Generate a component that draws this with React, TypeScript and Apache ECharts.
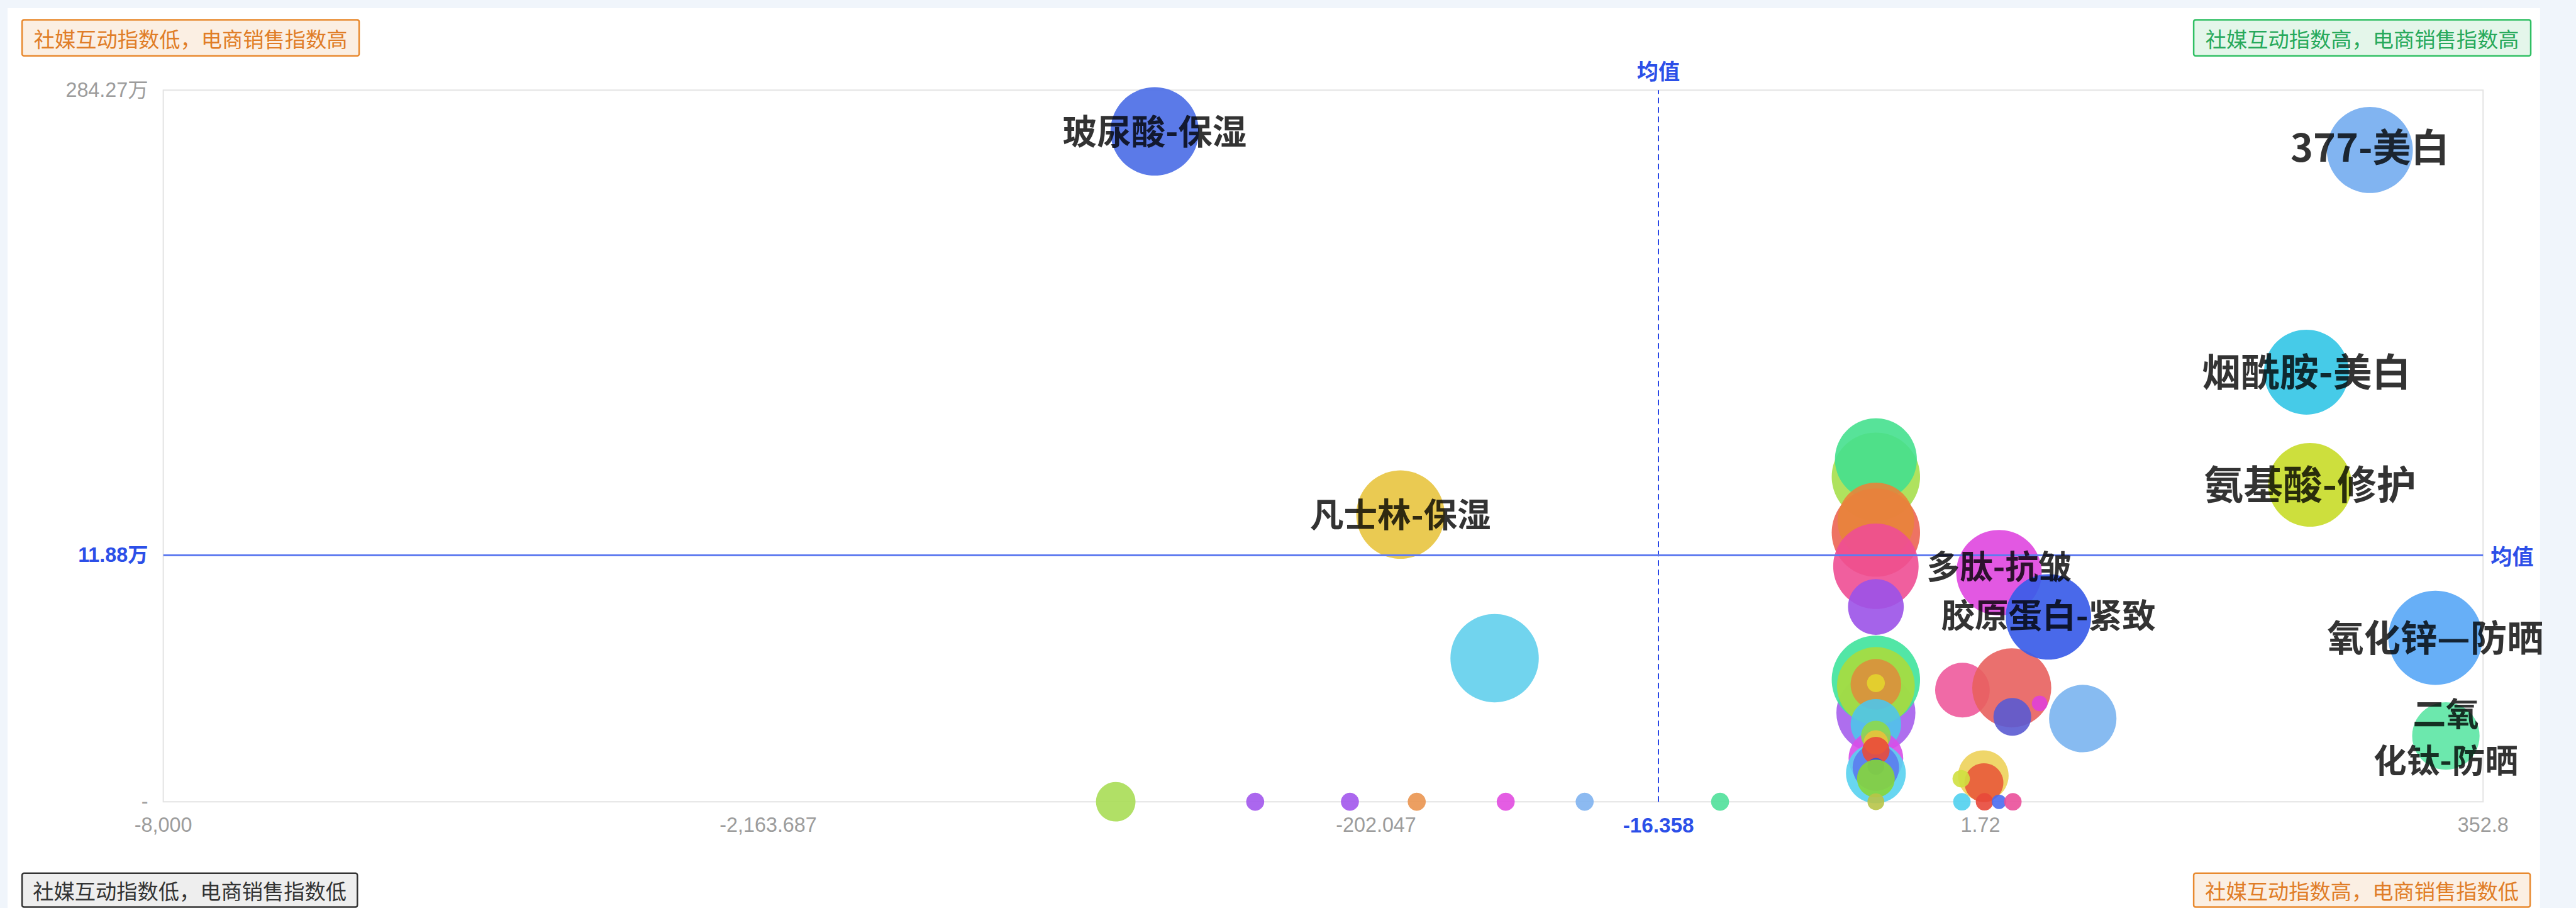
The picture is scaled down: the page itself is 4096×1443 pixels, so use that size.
import React, { useEffect, useRef } from 'react';
import * as echarts from 'echarts';

// ---------- scale of this rendering relative to the reference ----------
const S = 0.924;

// ---------- axis ticks (piecewise axis as in the original) ----------
const xTickValues = [-8000, -2163.687, -202.047, -16.358, 1.72, 352.8];
const xTickLabels = ['-8,000', '-2,163.687', '-202.047', '-16.358', '1.72', '352.8'];
const yTickValues = [0, 11.88, 284.27]; // 万
const yTickLabels = ['-', '11.88万', '284.27万'];
const xMean = -16.358;
const yMean = 11.88;
// where each tick sits along the axis (percent of axis length)
const xTickPos = [0, 26.077, 52.279, 64.454, 78.332, 100];
const yTickPos = [0, 34.641, 100];

// ---------- labelled bubbles ----------
const namedItems = ['玻尿酸-保湿', '凡士林-保湿', '377-美白', '烟酰胺-美白', '氨基酸-修护', '多肽-抗皱', '胶原蛋白-紧致', '氧化锌—防晒', '二氧化钛-防晒'];
const namedLabels = ['玻尿酸-保湿', '凡士林-保湿', '377-美白', '烟酰胺-美白', '氨基酸-修护', '多肽-抗皱', '胶原蛋白-紧致', '氧化锌—防晒', '二氧\n化钛-防晒'];
const namedSocial = [-916.6, -186.0, 273.7, 229.4, 231.9, 14.7, 49.2, 319.5, 326.8];
const namedSales = [260.1, 35.7, 249.2, 119.1, 53.1, 11.04, 8.91, 7.9, 3.17];
const namedBubble = [152, 152, 148, 146, 144, 147, 147, 162, 116];

// ---------- other bubbles ----------
const otherSocial = [
  -124.1, -1042.2, -592.1, -286.4, -175.3, -116.8, -64.9, -12.9,
  -4.15, -4.15, -4.15, -4.15, -4.15, -4.15, -4.15, -4.15, -4.15, -4.15, -4.15,
  -4.15, -4.15, -4.15, -4.15, -4.15, -4.15, -4.15, -4.15, -4.15, -4.15,
  0.71, 23.6, 24.0, 43.1, 73.2, 3.75, 4.16, 0.64, 0.68, 4.56, 14.7, 24.4,
];
const otherSales = [
  6.92, 0, 0, 0, 0, 0, 0, 0,
  57.85, 68.06, 25.16, 31.97, 11.35, 9.39, 4.29, 5.88, 5.58, 5.66, 5.72,
  3.73, 2.1, 1.37, 1.65, 3.19, 2.86, 2.47, 1.71, 1.12, 0,
  5.38, 5.49, 4.09, 4.74, 4.01, 1.26, 0.92, 1.11, 0, 0, 0, 0,
];
const otherBubble = [
  152, 68, 31, 31, 31, 31, 31, 31,
  152, 141, 152, 132, 147, 96, 136, 152, 134, 87, 31,
  87, 94, 103, 80, 51, 42, 47, 29, 65, 29,
  94, 136, 65, 27, 116, 87, 67, 30, 30, 30, 25, 30,
];

// ---------- styles ----------
const namedColors = ['#4d6fe6', '#e8c543', '#76aef0', '#36c7e6', '#c9dc2c', '#df4ae0', '#3a5ce8', '#5aa8f6', '#5fe6a6'];
const namedFont = [59, 58, 66, 67, 68, 57, 58, 63, 57];
const namedLabelShift = [-4, -4, -8, -5, -5, -14, -6, -4, -2];
const otherColors = [
  '#62cfec', '#a8dd55', '#a257ec', '#a257ec', '#ea9550', '#e14be0', '#7fb3ef', '#4fe09a',
  '#a6df4c', '#45e08e', '#ec6452', '#e8843a', '#ee4e93', '#9b52e8', '#a55eec', '#3fe39c', '#a9dc3e', '#dc8f3c', '#e4d42c',
  '#4fc4ea', '#d84ee8', '#58d2f0', '#5b7cee', '#8ed84a', '#e8c23a', '#ea4a3a', '#2f4fe6', '#86d63a', '#b8c448',
  '#ee5a9c', '#e8605e', '#5a5ad2', '#e040d8', '#7ab4ef', '#edd25a', '#e85a3a', '#cfe040', '#50d0ee', '#e8483a', '#4a6cf0', '#ea4f9a',
];

const BLUE = '#2c4fe8';
const GRAY = '#9c9c9c';
const FONT = '"Liberation Sans", "Noto Sans CJK SC", sans-serif';
const CJK = '"Noto Sans CJK SC", sans-serif';

function interp(v: number, from: number[], to: number[]): number {
  const n = from.length - 1;
  let i = 0;
  while (i < n - 1 && v > from[i + 1]) i++;
  return to[i] + ((v - from[i]) * (to[i + 1] - to[i])) / (from[i + 1] - from[i]);
}
const toX = (v: number) => interp(v, xTickValues, xTickPos);
const toY = (v: number) => interp(v, yTickValues, yTickPos);
const idxOf = (v: number, arr: number[]) => {
  let best = 0;
  arr.forEach((p, i) => { if (Math.abs(p - v) < Math.abs(arr[best] - v)) best = i; });
  return best;
};

function quadrant(cx: number, cy: number, w: number, h: number, text: string, stroke: string, fill: string, color: string) {
  return {
    type: 'group',
    z: 20,
    children: [
      {
        type: 'rect',
        shape: { x: (cx - w / 2) * S, y: (cy - h / 2) * S, width: w * S, height: h * S, r: 3 },
        style: { fill, stroke, lineWidth: 2.5 },
      },
      {
        type: 'text',
        x: cx * S,
        y: cy * S,
        style: { text, fill: color, fontSize: 36 * S, fontFamily: CJK, align: 'center', verticalAlign: 'middle' },
      },
    ],
  };
}

export default function App() {
  const ref = useRef<HTMLDivElement>(null);
  useEffect(() => {
    const chart = echarts.init(ref.current!, null, { renderer: 'svg' });
    const option: any = {
      animation: false,
      backgroundColor: '#f0f5fb',
      textStyle: { fontFamily: FONT },
      graphic: [
        { type: 'rect', z: -10, shape: { x: 13 * S, y: 14 * S, width: (4371 - 13) * S, height: 1443 }, style: { fill: '#ffffff' } },
        quadrant(328, 65, 580, 62, '社媒互动指数低，电商销售指数高', '#e8892e', '#fbefe3', '#e07d27'),
        quadrant(4065, 65, 580, 62, '社媒互动指数高，电商销售指数高', '#2fbf63', '#e4f6ea', '#27a95b'),
        quadrant(326.5, 1531, 577, 58, '社媒互动指数低，电商销售指数低', '#333333', '#eeeeee', '#333333'),
        quadrant(4064.5, 1531, 579, 58, '社媒互动指数高，电商销售指数低', '#e8892e', '#fbefe3', '#e07d27'),
      ],
      grid: {
        left: 281 * S,
        right: 4096 - 4273 * S,
        top: 155 * S,
        bottom: 1443 - 1379 * S,
        show: true,
        borderColor: '#e3e3e3',
        borderWidth: 2,
        backgroundColor: 'transparent',
        outerBoundsMode: 'none',
      },
      xAxis: {
        type: 'value',
        min: 0,
        max: 100,
        axisLine: { show: false },
        axisTick: { show: false },
        splitLine: { show: false },
        axisLabel: {
          customValues: xTickPos,
          margin: 22 * S,
          color: GRAY,
          fontSize: 35 * S,
          fontFamily: FONT,
          formatter: (v: number) => {
            const i = idxOf(v, xTickPos);
            return xTickValues[i] === xMean ? `{m|${xTickLabels[i]}}` : xTickLabels[i];
          },
          rich: { m: { color: BLUE, fontWeight: 'bold', fontSize: 36 * S, fontFamily: FONT } },
        },
      },
      yAxis: {
        type: 'value',
        min: 0,
        max: 100,
        axisLine: { show: false },
        axisTick: { show: false },
        splitLine: { show: false },
        axisLabel: {
          customValues: yTickPos,
          margin: 26 * S,
          color: GRAY,
          fontSize: 35 * S,
          fontFamily: FONT,
          formatter: (v: number) => {
            const i = idxOf(v, yTickPos);
            return yTickValues[i] === yMean ? `{m|${yTickLabels[i]}}` : yTickLabels[i];
          },
          rich: { m: { color: BLUE, fontWeight: 'bold', fontSize: 35 * S, fontFamily: FONT } },
        },
      },
      series: [
        {
          type: 'scatter',
          z: 2,
          clip: false,
          silent: true,
          itemStyle: { opacity: 0.9 },
          data: otherSocial.map((x, i) => ({
            value: [toX(x), toY(otherSales[i])],
            symbolSize: otherBubble[i] * S,
            itemStyle: { color: otherColors[i] },
          })),
        },
        {
          type: 'scatter',
          z: 2,
          clip: false,
          silent: true,
          itemStyle: { opacity: 0.92 },
          data: namedSocial.map((x, i) => ({
            name: namedItems[i],
            value: [toX(x), toY(namedSales[i])],
            symbolSize: namedBubble[i] * S,
            itemStyle: { color: namedColors[i] },
          })),
        },
        {
          type: 'scatter',
          z: 3,
          silent: true,
          symbolSize: 0,
          data: [[toX(xMean), toY(yMean)]],
          itemStyle: { color: 'rgba(0,0,0,0)' },
          markLine: {
            silent: true,
            symbol: ['none', 'none'],
            data: [
              {
                xAxis: toX(xMean),
                lineStyle: { type: [9, 6], color: '#2846e6', width: 2 },
                label: {
                  show: true,
                  position: 'end',
                  formatter: '均值',
                  distance: 16 * S,
                  color: BLUE,
                  fontWeight: 'bold',
                  fontSize: 37 * S,
                  fontFamily: CJK,
                },
              },
              {
                yAxis: toY(yMean),
                lineStyle: { type: 'solid', color: '#5f7bf0', width: 3 },
                label: {
                  show: true,
                  position: 'end',
                  formatter: '均值',
                  distance: 13 * S,
                  color: BLUE,
                  fontWeight: 'bold',
                  fontSize: 37 * S,
                  fontFamily: CJK,
                },
              },
            ],
          },
        },
        {
          type: 'scatter',
          z: 5,
          clip: false,
          silent: true,
          symbolSize: 2,
          itemStyle: { color: 'rgba(0,0,0,0)' },
          data: namedSocial.map((x, i) => ({
            name: namedItems[i],
            value: [toX(x), toY(namedSales[i])],
            label: {
              show: true,
              position: 'inside',
              offset: [0, namedLabelShift[i] * S],
              formatter: namedLabels[i],
              color: '#000000',
              fontWeight: 'bold',
              fontFamily: CJK,
              fontSize: namedFont[i] * S,
              lineHeight: 80 * S,
              align: 'center',
              verticalAlign: 'middle',
            },
          })),
        },
      ],
    };
    chart.setOption(option);
    return () => chart.dispose();
  }, []);
  return <div ref={ref} style={{ position: 'absolute', left: 0, top: 0, width: 4096, height: 1443 }} />;
}
